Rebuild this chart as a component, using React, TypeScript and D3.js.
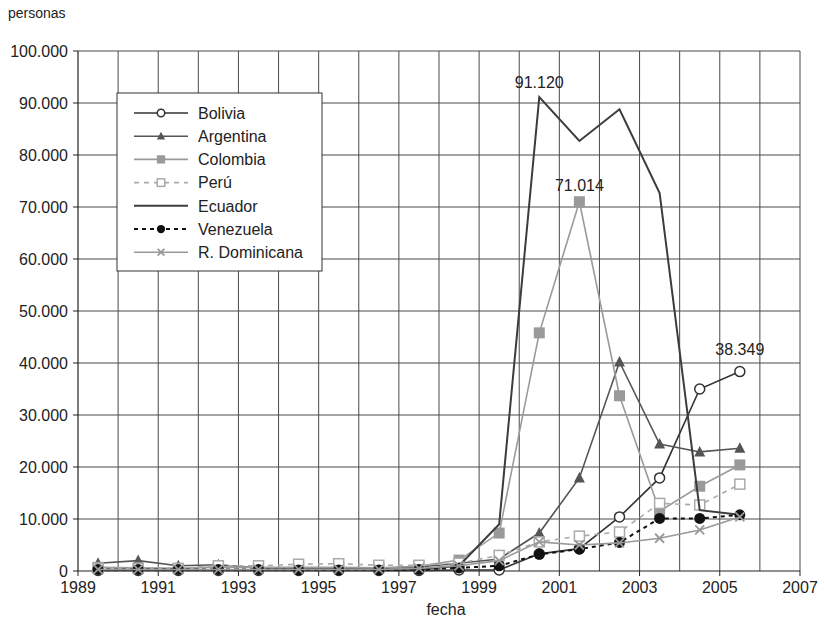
import React from "react";
import * as d3 from "d3";

const years = [1989, 1990, 1991, 1992, 1993, 1994, 1995, 1996, 1997, 1998, 1999, 2000, 2001, 2002, 2003, 2004, 2005];
const bolivia = [100, 100, 100, 100, 100, 100, 100, 100, 100, 200, 200, 3300, 4300, 10400, 17900, 35000, 38349];
const argentina = [1500, 2000, 1000, 1200, 600, 500, 600, 500, 800, 1500, 2300, 7300, 17900, 40200, 24400, 22900, 23600];
const colombia = [700, 600, 500, 800, 700, 700, 700, 600, 900, 2100, 7300, 45800, 71014, 33700, 11500, 16300, 20400];
const peru = [500, 500, 500, 1000, 1000, 1300, 1400, 1100, 1100, 1500, 3000, 5600, 6700, 7500, 13000, 12700, 16700];
const ecuador = [200, 200, 200, 200, 200, 200, 200, 200, 300, 1000, 9000, 91120, 82700, 88800, 72700, 11700, 10800];
const venezuela = [300, 300, 300, 300, 300, 200, 200, 200, 300, 600, 1000, 3200, 4200, 5500, 10100, 10100, 10800];
const dominicana = [300, 300, 300, 300, 300, 300, 300, 300, 500, 1000, 2000, 5600, 5000, 5400, 6300, 7900, 10400];

const seriesNames = ["Bolivia", "Argentina", "Colombia", "Perú", "Ecuador", "Venezuela", "R. Dominicana"];
const yTicks = [0, 10000, 20000, 30000, 40000, 50000, 60000, 70000, 80000, 90000, 100000];
const xTicks = [1989, 1991, 1993, 1995, 1997, 1999, 2001, 2003, 2005, 2007];
const annotations = [
  { series: "Ecuador", year: 2000, value: 91120, text: "91.120" },
  { series: "Colombia", year: 2001, value: 71014, text: "71.014" },
  { series: "Bolivia", year: 2005, value: 38349, text: "38.349" },
];

type Marker = "circleOpen" | "triangle" | "square" | "squareOpen" | "none" | "circle" | "x";
const styles: Record<string, { color: string; width: number; dash?: string; marker: Marker }> = {
  Bolivia: { color: "#333", width: 1.6, marker: "circleOpen" },
  Argentina: { color: "#555", width: 1.6, marker: "triangle" },
  Colombia: { color: "#9a9a9a", width: 1.6, marker: "square" },
  "Perú": { color: "#aaa", width: 1.6, dash: "5,5", marker: "squareOpen" },
  Ecuador: { color: "#3c3c3c", width: 2, marker: "none" },
  Venezuela: { color: "#111", width: 2, dash: "4,4", marker: "circle" },
  "R. Dominicana": { color: "#999", width: 1.6, marker: "x" },
};

const values: Record<string, number[]> = {
  Bolivia: bolivia,
  Argentina: argentina,
  Colombia: colombia,
  "Perú": peru,
  Ecuador: ecuador,
  Venezuela: venezuela,
  "R. Dominicana": dominicana,
};

const FONT = "'Liberation Sans', Arial, Helvetica, sans-serif";

function MarkerShape({ kind, x, y, color, s = 1 }: { kind: Marker; x: number; y: number; color: string; s?: number }) {
  switch (kind) {
    case "circleOpen":
      return <circle cx={x} cy={y} r={5 * s} fill="#fff" stroke={color} strokeWidth={1.5} />;
    case "circle":
      return <circle cx={x} cy={y} r={5.5 * s} fill={color} />;
    case "triangle": {
      const h = 10 * s;
      return (
        <path
          d={`M${x},${y - h * 0.6}L${x + 5.5 * s},${y + h * 0.45}L${x - 5.5 * s},${y + h * 0.45}Z`}
          fill={color}
        />
      );
    }
    case "square":
      return <rect x={x - 5.5 * s} y={y - 5.5 * s} width={11 * s} height={11 * s} fill={color} />;
    case "squareOpen":
      return (
        <rect x={x - 5 * s} y={y - 5 * s} width={10 * s} height={10 * s} fill="#fff" stroke={color} strokeWidth={1.5} />
      );
    case "x":
      return (
        <path
          d={`M${x - 4.5 * s},${y - 4.5 * s}L${x + 4.5 * s},${y + 4.5 * s}M${x - 4.5 * s},${y + 4.5 * s}L${x + 4.5 * s},${y - 4.5 * s}`}
          stroke={color}
          strokeWidth={1.8}
        />
      );
    default:
      return null;
  }
}

export default function App() {
  const W = 824;
  const H = 627;
  const x = d3.scaleLinear().domain([1989, 2007]).range([78, 800]);
  const y = d3.scaleLinear().domain([0, 100000]).range([571, 51]);
  const px = (yr: number) => x(yr + 0.5);

  const line = (vals: number[]) =>
    d3
      .line<number>()
      .x((_, i) => px(years[i]))
      .y((v) => y(v))(vals) as string;

  const fmt = (v: number) => (v === 0 ? "0" : d3.format(",")(v).replace(/,/g, "."));
  const gridYears = d3.range(1990, 2008);

  const legendX = 117;
  const legendY = 93;

  return (
    <svg width={W} height={H} style={{ position: "absolute", left: 0, top: 0, background: "#fff" }} fontFamily={FONT}>
      <rect x={0} y={0} width={W} height={H} fill="#fff" />
      {/* grid */}
      {yTicks.filter((t) => t > 0).map((t) => (
        <line key={"gy" + t} x1={x(1989)} x2={x(2007)} y1={y(t)} y2={y(t)} stroke="#4a4a4a" strokeWidth={1} />
      ))}
      {gridYears.map((g) => (
        <line key={"gx" + g} x1={x(g)} x2={x(g)} y1={y(100000)} y2={y(0)} stroke="#4a4a4a" strokeWidth={1} />
      ))}
      {/* axes */}
      <line x1={x(1989)} x2={x(1989)} y1={y(100000)} y2={y(0)} stroke="#222" strokeWidth={1.2} />
      <line x1={x(1989)} x2={x(2007)} y1={y(0)} y2={y(0)} stroke="#222" strokeWidth={1.2} />
      {yTicks.map((t) => (
        <g key={"yt" + t}>
          <line x1={x(1989) - 5} x2={x(1989)} y1={y(t)} y2={y(t)} stroke="#222" />
          <text x={x(1989) - 10} y={y(t)} dy="0.36em" textAnchor="end" fontSize={16} fill="#222">
            {fmt(t)}
          </text>
        </g>
      ))}
      {xTicks.map((t) => (
        <g key={"xt" + t}>
          <line x1={x(t)} x2={x(t)} y1={y(0)} y2={y(0) + 5} stroke="#222" />
          <text x={x(t)} y={y(0) + 22} textAnchor="middle" fontSize={16} fill="#222">
            {t}
          </text>
        </g>
      ))}
      <text x={8} y={18} fontSize={14} fill="#222">personas</text>
      <text x={446} y={615} fontSize={16} textAnchor="middle" fill="#222">fecha</text>

      {/* series */}
      {seriesNames.map((name) => {
        const st = styles[name];
        return (
          <g key={name}>
            <path d={line(values[name])} fill="none" stroke={st.color} strokeWidth={st.width} strokeDasharray={st.dash} />
            {values[name].map((v, i) => (
              <MarkerShape key={i} kind={st.marker} x={px(years[i])} y={y(v)} color={st.color} />
            ))}
          </g>
        );
      })}

      {/* annotations */}
      {annotations.map((a) => (
        <text
          key={a.text}
          x={px(a.year)}
          y={y(a.value) - (a.series === "Bolivia" ? 17 : a.series === "Colombia" ? 11 : 9)}
          textAnchor="middle"
          fontSize={16}
          fill="#222"
        >
          {a.text}
        </text>
      ))}

      {/* legend */}
      <rect x={legendX} y={legendY} width={205} height={178} fill="#fff" stroke="#333" strokeWidth={1} />
      {seriesNames.map((name, i) => {
        const st = styles[name];
        const ly = legendY + 20 + i * 23.2;
        return (
          <g key={"lg" + name}>
            <line x1={134} x2={188} y1={ly} y2={ly} stroke={st.color} strokeWidth={st.width} strokeDasharray={st.dash} />
            <MarkerShape kind={st.marker} x={161} y={ly} color={st.color} s={0.75} />
            <text x={198} y={ly} dy="0.36em" fontSize={16} fill="#222">
              {name}
            </text>
          </g>
        );
      })}
    </svg>
  );
}
